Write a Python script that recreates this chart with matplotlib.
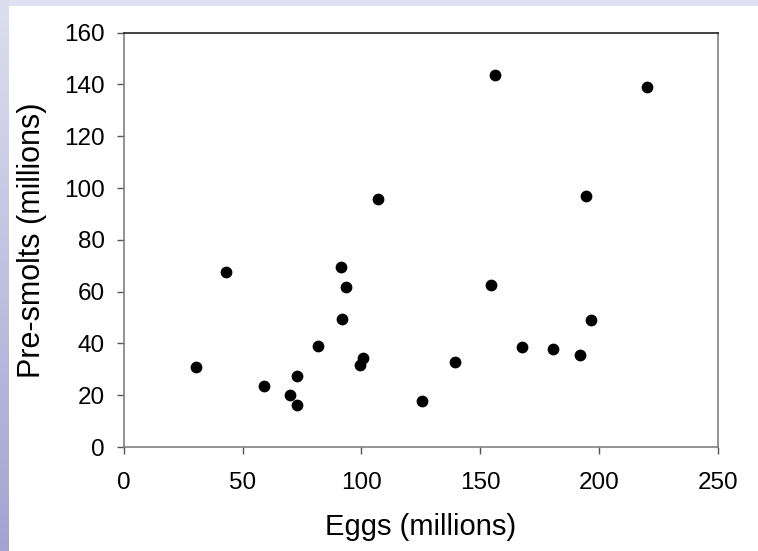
import numpy as np
import matplotlib.pyplot as plt

# eggs vs pre-smolts, both in millions
eggs = [30.2, 42.8, 58.9, 69.8, 72.7, 73.0, 81.5, 91.4, 93.5, 91.9,
        99.5, 100.5, 106.9, 125.5, 139.4, 154.5, 156.4, 167.7, 180.8,
        191.9, 194.4, 196.5, 220.2]
presmolts = [31.0, 67.4, 23.5, 20.2, 16.1, 27.4, 39.1, 69.6, 61.8, 49.4,
             31.5, 34.2, 95.7, 17.9, 32.9, 62.5, 143.7, 38.5, 37.7,
             35.5, 96.9, 49.0, 139.1]

xticks = [0, 50, 100, 150, 200, 250]
yticks = [0, 20, 40, 60, 80, 100, 120, 140, 160]

plt.rcParams['font.family'] = ['Liberation Sans', 'DejaVu Sans']

fig = plt.figure(figsize=(7.58, 5.51), dpi=100)

# slide-style border: lavender strip on top, gradient strip on the left
top = fig.add_axes([0, 1 - 6 / 551, 1, 6 / 551])
top.set_axis_off()
top.imshow([[[0.88, 0.88, 0.95]]], aspect='auto', extent=[0, 1, 0, 1])
left = fig.add_axes([0, 0, 9 / 758, 1])
left.set_axis_off()
grad = np.linspace(0, 1, 256)[:, None]
c_top = np.array([0.87, 0.87, 0.94])
c_bot = np.array([0.64, 0.64, 0.82])
img = (c_top[None, None, :] * (1 - grad[..., None]) + c_bot[None, None, :] * grad[..., None])
left.imshow(img, aspect='auto', extent=[0, 1, 0, 1])

ax = fig.add_axes([124 / 758, 1 - 447 / 551, (717.7 - 124) / 758, (447 - 32.7) / 551])
ax.scatter(eggs, presmolts, s=72, color='black', zorder=3, linewidths=0)

ax.set_xlim(0, 250)
ax.set_ylim(0, 160)
ax.set_xticks(xticks)
ax.set_yticks(yticks)
ax.tick_params(direction='out', length=5, width=1, color='#555555',
               labelsize=17.5, pad=9)
ax.tick_params(axis='x', pad=13)
for side in ['left', 'bottom', 'right']:
    ax.spines[side].set_color('#808080')
    ax.spines[side].set_linewidth(1.2)
ax.spines['top'].set_color('#222222')
ax.spines['top'].set_linewidth(1.2)

ax.set_xlabel('Eggs (millions)', fontsize=21, labelpad=14)
ax.set_ylabel('Pre-smolts (millions)', fontsize=22, labelpad=12)

fig.savefig('out.png', dpi=100)
